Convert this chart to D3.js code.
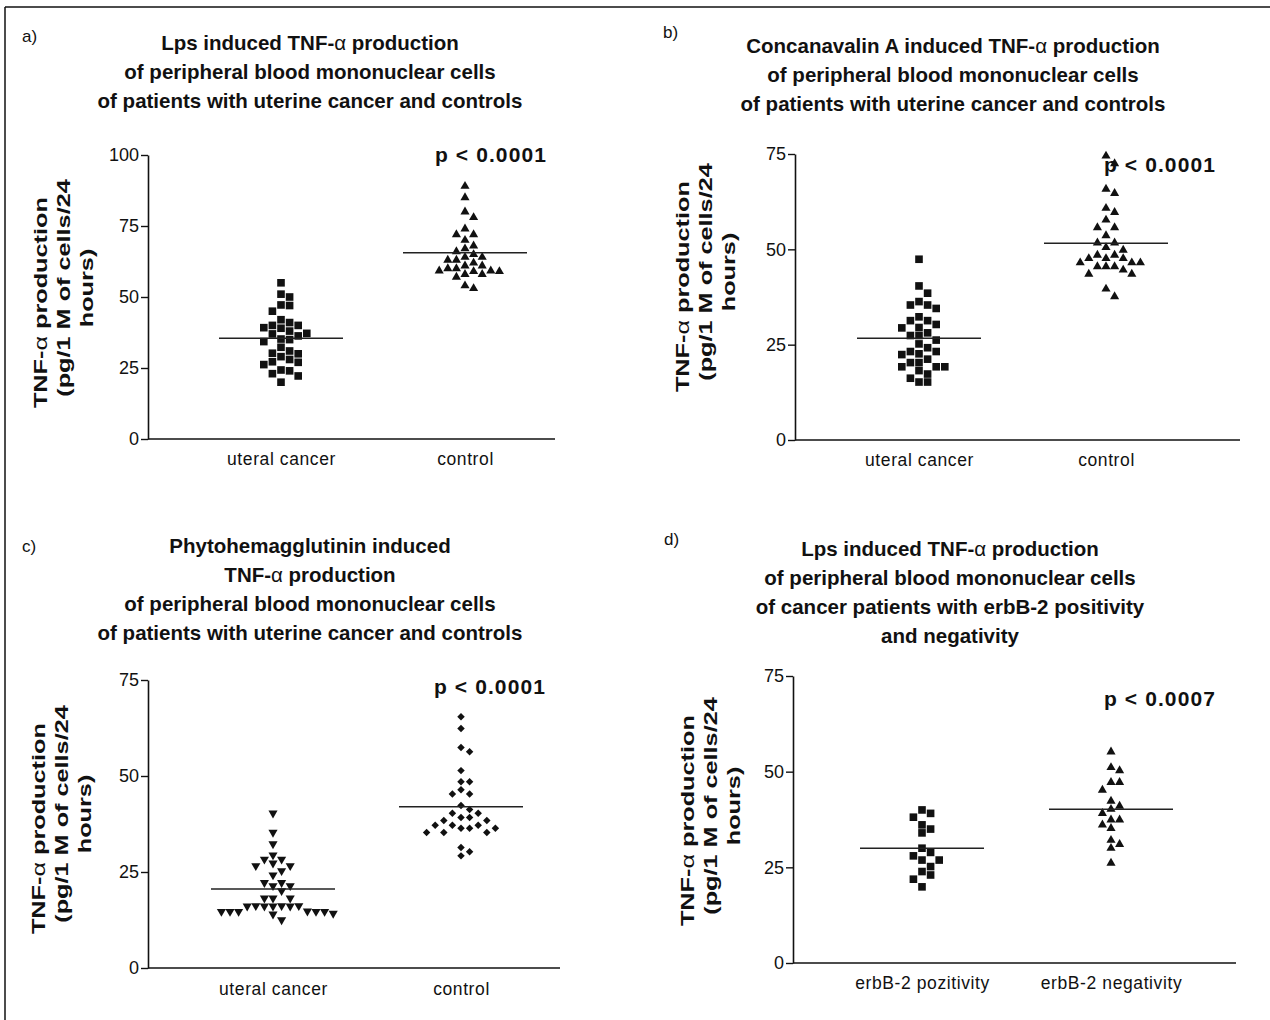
<!DOCTYPE html>
<html>
<head>
<meta charset="utf-8">
<script src="https://cdn.jsdelivr.net/npm/d3@7"></script>
<style>
    body { margin: 0; background: #fff; }
    svg { display: block; font-family: "Liberation Sans", Arial, Helvetica, sans-serif; }
</style>
</head>
<body>
<svg id="chart" width="1270" height="1020"></svg>
<script>
// ---- data ----
var uterusCategories = ['uteral cancer', 'control'];
var erbCategories = ['erbB-2 pozitivity', 'erbB-2 negativity'];

var ticks100 = [0, 25, 50, 75, 100];
var ticks75 = [0, 25, 50, 75];

// a) Lps
var lpsCancer = [55, 51, 50, 47.2, 47, 45, 42, 41, 40, 40, 39.2, 39, 38, 37.2, 37, 36.3, 35.2, 35, 34.3,
    32.3, 31, 30.2, 30, 29, 28, 27.2, 27, 26.2, 24.3, 24, 23, 22.2, 20];
var lpsControl = [89, 85, 80, 78, 74, 72, 72, 70, 68, 67, 66, 65, 64, 64, 63, 63, 62, 61, 61,
    60, 60, 59.2, 59.2, 59, 59, 58, 58, 57, 54, 53];
var lpsMeans = [35.5, 65.6];

// b) Concanavalin A
var conACancer = [47.4, 40.4, 38.5, 36.3, 35.4, 35.4, 34.5, 32.3, 31.3, 31.3, 30.3, 29.5, 29.4, 28.1,
    27.4, 27.4, 26.2, 25.2, 24.2, 23.2, 23.2, 22.6, 22.4, 21.2, 20.3, 20.3, 19.2, 19.2, 19.2,
    18.2, 17.3, 16.2, 15.2, 15.2];
var conAControl = [74.5, 72.5, 65.8, 64.7, 60.8, 59.7, 57.7, 55.7, 55.7, 53.6, 51.7, 51.7, 50.5, 49.8,
    48.5, 48.5, 47.6, 47.6, 47.6, 46.5, 46.5, 46.5, 45.5, 45.5, 45.5, 44.6, 43.5, 43.5, 39.6, 37.6];
var conAMeans = [26.7, 51.6];

// c) Phytohemagglutinin
var phaCancer = [40.3, 35.3, 32.3, 29.4, 28.3, 28.3, 27.3, 26.6, 26.6, 25.3, 24.2, 22.2, 22.2, 21.4,
    21.4, 20.1, 18.2, 18.2, 18.2, 16.2, 16.2, 16.2, 16.1, 16.1, 16.1, 16.1, 14.8, 14.7, 14.7,
    14.7, 14.7, 14.7, 14.2, 14.0, 12.5];
var phaControl = [65.4, 62.4, 57.4, 56.3, 51.4, 48.5, 48.5, 46.4, 45.3, 45.3, 42.3, 41.3, 40.3, 40.3,
    39.2, 39.2, 38.4, 38.4, 37.2, 37.2, 37.2, 36.4, 36.4, 36.4, 35.3, 35.3, 35.3, 31.4, 30.3, 29.2];
var phaMeans = [20.6, 42.0];

// d) Lps, erbB-2
var erbPositive = [40, 39.1, 38.1, 36.1, 35, 34, 30, 28.9, 28, 26.9, 26.9, 25.2, 23.9, 23, 21.9, 19.9];
var erbNegative = [55.2, 51.1, 50.3, 47.2, 47.2, 45.2, 42.3, 41, 40.2, 39.1, 37.4, 37.4, 36.1, 35.2,
    32.1, 31, 30, 26.1];
var erbMeans = [30.0, 40.2];

var pValues = ['p < 0.0001', 'p < 0.0001', 'p < 0.0001', 'p < 0.0007'];

var titleA = ['Lps induced TNF-α production', 'of peripheral blood mononuclear cells',
    'of patients with uterine cancer and controls'];
var titleB = ['Concanavalin A induced TNF-α production', 'of peripheral blood mononuclear cells',
    'of patients with uterine cancer and controls'];
var titleC = ['Phytohemagglutinin induced', 'TNF-α production', 'of peripheral blood mononuclear cells',
    'of patients with uterine cancer and controls'];
var titleD = ['Lps induced TNF-α production', 'of peripheral blood mononuclear cells',
    'of cancer patients with erbB-2 positivity', 'and negativity'];
var yTitle = ['TNF-α production', '(pg/1 M of cells/24', 'hours)'];

// ---- layout ----
var INK = '#111';
var FONT = '"Liberation Sans", Arial, sans-serif';
var svg = d3.select('#chart');

// scanned frame (top and left edges only)
svg.append('line').attr('x1', 5).attr('y1', 7).attr('x2', 1270).attr('y2', 7)
    .attr('stroke', INK).attr('stroke-width', 1.5);
svg.append('line').attr('x1', 5).attr('y1', 7).attr('x2', 5).attr('y2', 1020)
    .attr('stroke', INK).attr('stroke-width', 1.5);

var panels = [
    {tag: 'a)', tagX: 22, tagY: 42, title: titleA, titleX: 310, titleY: 50,
        cats: uterusCategories, groups: [lpsCancer, lpsControl], means: lpsMeans,
        shapes: ['square', 'triangle'], p: pValues[0], pX: 491, pY: 162,
        ox: 148, oy: 439, top: 155, yMax: 100, ticks: ticks100, axisLen: 407,
        catRange: [133, 317], catY: 466, yTitleX: 47, yTitleY: 288},
    {tag: 'b)', tagX: 663, tagY: 38, title: titleB, titleX: 953, titleY: 53,
        cats: uterusCategories, groups: [conACancer, conAControl], means: conAMeans,
        shapes: ['square', 'triangle'], p: pValues[1], pX: 1160, pY: 172,
        ox: 795, oy: 440, top: 154, yMax: 75, ticks: ticks75, axisLen: 445,
        catRange: [124, 311], catY: 467, yTitleX: 689, yTitleY: 272},
    {tag: 'c)', tagX: 22, tagY: 552, title: titleC, titleX: 310, titleY: 553,
        cats: uterusCategories, groups: [phaCancer, phaControl], means: phaMeans,
        shapes: ['triangleDown', 'diamond'], p: pValues[2], pX: 490, pY: 694,
        ox: 148, oy: 968, top: 680, yMax: 75, ticks: ticks75, axisLen: 412,
        catRange: [125, 313], catY: 996, yTitleX: 45, yTitleY: 814},
    {tag: 'd)', tagX: 664, tagY: 545, title: titleD, titleX: 950, titleY: 556,
        cats: erbCategories, groups: [erbPositive, erbNegative], means: erbMeans,
        shapes: ['square', 'triangle'], p: pValues[3], pX: 1160, pY: 706,
        ox: 793, oy: 963, top: 676, yMax: 75, ticks: ticks75, axisLen: 443,
        catRange: [129, 318], catY: 990, yTitleX: 694, yTitleY: 806}
];

var symbols = {
    square: {type: d3.symbolSquare, size: 58, rotate: 0},
    triangle: {type: d3.symbolTriangle, size: 36, rotate: 0},
    triangleDown: {type: d3.symbolTriangle, size: 36, rotate: 180},
    diamond: {type: d3.symbolSquare, size: 28, rotate: 45}
};

// put "α" in a lighter weight, like the symbol font of the original
function writeLine(textSel, str) {
    str.split(/(α)/).forEach(function (part) {
        if (!part) return;
        var t = textSel.append('tspan').text(part);
        if (part === 'α') t.attr('font-weight', 'normal');
    });
}

// column scatter: points that would overlap are pushed to side slots
function swarm(values, cx, y, step, gap) {
    var pts = values.map(function (v) { return {v: v, py: y(v)}; })
        .sort(function (a, b) { return b.v - a.v; });
    var placed = [];
    pts.forEach(function (d) {
        for (var n = 0; n < 40; n++) {
            var k = n === 0 ? 0 : (n % 2 ? (n + 1) / 2 : -n / 2);
            var hit = placed.some(function (p) { return p.k === k && Math.abs(p.py - d.py) < gap; });
            if (!hit) { d.k = k; break; }
        }
        placed.push(d);
        d.px = cx + d.k * step;
    });
    return pts;
}

panels.forEach(function (cfg) {
    var g = svg.append('g');

    var y = d3.scaleLinear().domain([0, cfg.yMax]).range([cfg.oy, cfg.top]);
    var x = d3.scalePoint().domain(cfg.cats)
        .range([cfg.ox + cfg.catRange[0], cfg.ox + cfg.catRange[1]]);

    g.append('text').attr('x', cfg.tagX).attr('y', cfg.tagY)
        .attr('font-size', 17).attr('fill', INK).text(cfg.tag);

    cfg.title.forEach(function (line, i) {
        var t = g.append('text').attr('x', cfg.titleX).attr('y', cfg.titleY + i * 29)
            .attr('text-anchor', 'middle').attr('font-size', 20.5).attr('font-weight', 'bold')
            .attr('fill', INK);
        writeLine(t, line);
    });

    // y axis
    var yAxis = g.append('g').attr('transform', 'translate(' + cfg.ox + ',0)')
        .call(d3.axisLeft(y).tickValues(cfg.ticks).tickSize(7).tickPadding(2).tickSizeOuter(0));
    yAxis.select('.domain').attr('stroke', INK).attr('stroke-width', 1.6);
    yAxis.selectAll('.tick line').attr('stroke', INK).attr('stroke-width', 1.4);
    yAxis.selectAll('.tick text').attr('font-size', 18).attr('fill', INK)
        .attr('font-family', FONT);

    // x axis: plain baseline, category names under the columns
    g.append('line').attr('x1', cfg.ox).attr('x2', cfg.ox + cfg.axisLen)
        .attr('y1', cfg.oy).attr('y2', cfg.oy).attr('stroke', INK).attr('stroke-width', 1.6);
    var xAxis = g.append('g').attr('transform', 'translate(0,' + cfg.oy + ')')
        .call(d3.axisBottom(x).tickSize(0).tickPadding(cfg.catY - cfg.oy - 13));
    xAxis.select('.domain').remove();
    xAxis.selectAll('.tick text').attr('font-size', 17.5).attr('letter-spacing', 0.6)
        .attr('fill', INK).attr('font-family', FONT);

    // y axis title (the scan stretches it along the axis)
    var yt = g.append('g').attr('transform', 'translate(' + cfg.yTitleX + ',' + cfg.yTitleY + ') rotate(-90) scale(1.33,1)');
    yTitle.forEach(function (line, i) {
        var t = yt.append('text').attr('x', i === 0 ? -11 : 0).attr('y', i * 23)
            .attr('text-anchor', 'middle').attr('font-size', 19).attr('font-weight', 'bold')
            .attr('fill', INK);
        writeLine(t, line);
    });

    // p value
    g.append('text').attr('x', cfg.pX).attr('y', cfg.pY).attr('text-anchor', 'middle')
        .attr('font-size', 21).attr('letter-spacing', 1.1).attr('font-weight', 'bold')
        .attr('fill', INK).text(cfg.p);

    // points and mean lines
    cfg.groups.forEach(function (vals, gi) {
        var cx = x(cfg.cats[gi]);
        var sym = symbols[cfg.shapes[gi]];
        var path = d3.symbol().type(sym.type).size(sym.size);
        var pts = swarm(vals, cx, y, 8.6, 8);

        g.append('g').selectAll('path')
            .data(pts)
            .enter()
            .append('path')
            .attr('d', path)
            .attr('fill', INK)
            .attr('transform', function (d) {
                return 'translate(' + d.px + ',' + d.py + ') rotate(' + sym.rotate + ')';
            });

        g.append('line')
            .attr('x1', cx - 62).attr('x2', cx + 62)
            .attr('y1', y(cfg.means[gi])).attr('y2', y(cfg.means[gi]))
            .attr('stroke', '#222').attr('stroke-width', 1.5);
    });
});
</script>
</body>
</html>
